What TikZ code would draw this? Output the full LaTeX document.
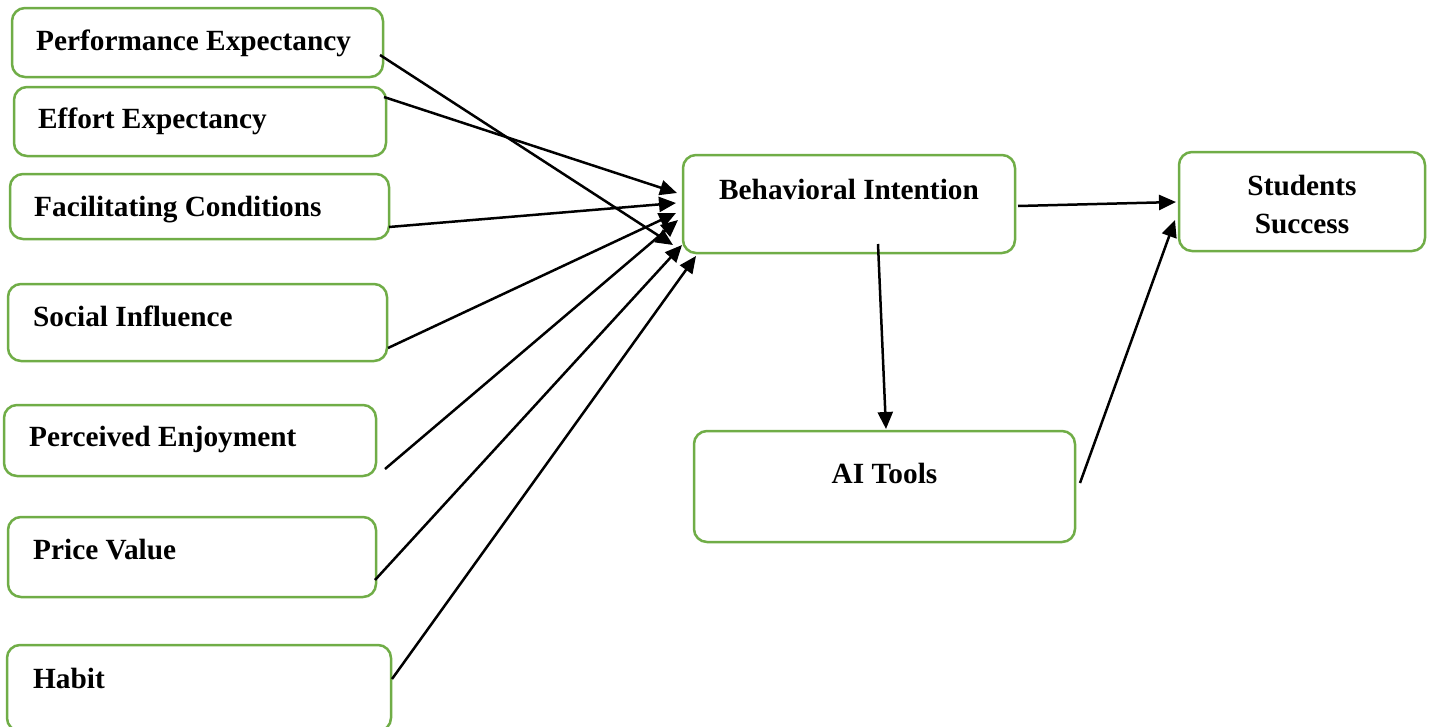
\documentclass[tikz,border=0pt]{standalone}
\usepackage{fontspec}
\setmainfont{Liberation Serif}
\usetikzlibrary{arrows.meta}
\definecolor{boxgreen}{HTML}{70AD47}
\begin{document}
\begin{tikzpicture}[x=1pt,y=-1pt,
  box/.style={draw=boxgreen, line width=2.5pt, rounded corners=13pt, inner sep=0pt, fill=white},
  lbl/.style={inner sep=0pt, font=\fontsize{29.3}{34}\selectfont\bfseries},
  arr/.style={line width=2.5pt, -{Triangle[length=17pt,width=15pt]}}]
\useasboundingbox (0,0) rectangle (1432,726);
\clip (0,0) rectangle (1432,726);
% boxes
\node[box, minimum width=371pt, minimum height=69pt] (pe) at (197.5,42.5) {};
\node[box, minimum width=372pt, minimum height=69pt] (ee) at (200,121.5) {};
\node[box, minimum width=379pt, minimum height=65pt] (fc) at (199.5,206.5) {};
\node[box, minimum width=379pt, minimum height=77pt] (si) at (197.5,322.5) {};
\node[box, minimum width=372pt, minimum height=71pt] (pj) at (190,440.5) {};
\node[box, minimum width=368pt, minimum height=80pt] (pv) at (192,557) {};
\node[box, minimum width=384pt, minimum height=86pt] (hb) at (199,688) {};
\node[box, minimum width=332pt, minimum height=98pt] (bi) at (849,204) {};
\node[box, minimum width=246pt, minimum height=99pt] (ss) at (1302,201.5) {};
\node[box, minimum width=381pt, minimum height=111pt] (ai) at (884.5,486.5) {};
% labels
\node[lbl, anchor=base west] (pe-t) at (36,50) {Performance Expectancy};
\node[lbl, anchor=base west] (ee-t) at (38,128) {Effort Expectancy};
\node[lbl, anchor=base west] (fc-t) at (34,216) {Facilitating Conditions};
\node[lbl, anchor=base west] (si-t) at (33,326) {Social Influence};
\node[lbl, anchor=base west] (pj-t) at (29,446) {Perceived Enjoyment};
\node[lbl, anchor=base west] (pv-t) at (33,559) {Price Value};
\node[lbl, anchor=base west] (hb-t) at (33,688) {Habit};
\node[lbl, anchor=base] (bi-t) at (849,199) {Behavioral Intention};
\node[lbl, anchor=base] (ss-t1) at (1302,195) {Students};
\node[lbl, anchor=base] (ss-t2) at (1302,233) {Success};
\node[lbl, anchor=base] (ai-t) at (884.5,483) {AI Tools};
% connector end points
\coordinate (pe-o) at (380,55);
\coordinate (ee-o) at (384,97);
\coordinate (fc-o) at (389,227);
\coordinate (si-o) at (388,348);
\coordinate (pj-o) at (385,469);
\coordinate (pv-o) at (375,580);
\coordinate (hb-o) at (392,679);
\coordinate (bi-i1) at (673,245);
\coordinate (bi-i2) at (677,193);
\coordinate (bi-i3) at (676,203);
\coordinate (bi-i4) at (676,213);
\coordinate (bi-i5) at (678,220);
\coordinate (bi-i6) at (682,245);
\coordinate (bi-i7) at (696,256);
\coordinate (bi-o1) at (1018,206);
\coordinate (ss-i1) at (1176,202);
\coordinate (bi-o2) at (878,244);
\coordinate (ai-i) at (886,429);
\coordinate (ai-o) at (1080,483);
\coordinate (ss-i2) at (1175,220);
% connectors
\draw[arr] (pe-o) -- (bi-i1);
\draw[arr] (ee-o) -- (bi-i2);
\draw[arr] (fc-o) -- (bi-i3);
\draw[arr] (si-o) -- (bi-i4);
\draw[arr] (pj-o) -- (bi-i5);
\draw[arr] (pv-o) -- (bi-i6);
\draw[arr] (hb-o) -- (bi-i7);
\draw[arr] (bi-o1) -- (ss-i1);
\draw[arr] (bi-o2) -- (ai-i);
\draw[arr] (ai-o) -- (ss-i2);
\end{tikzpicture}
\end{document}
